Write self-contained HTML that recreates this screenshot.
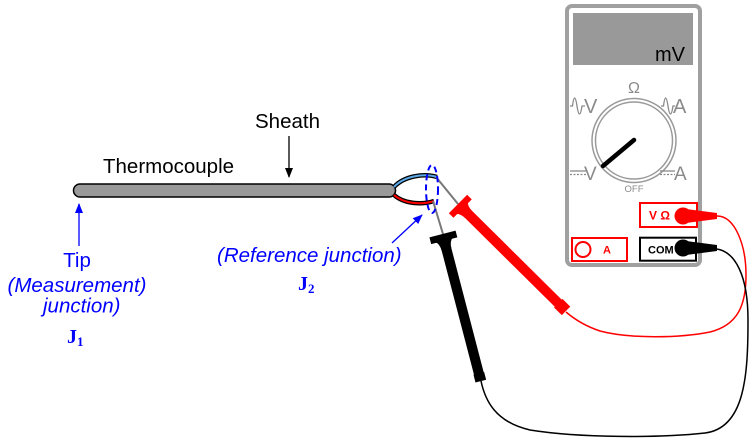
<!DOCTYPE html>
<html><head><meta charset="utf-8"><style>
html,body{margin:0;padding:0;background:#fff;}
svg{display:block;}
text{font-family:"Liberation Sans",Arial,sans-serif;}
.ser{font-family:"Liberation Serif","Times New Roman",serif;font-weight:bold;}
</style></head><body>
<svg width="756" height="444" viewBox="0 0 756 444" xmlns="http://www.w3.org/2000/svg">
<defs>
<marker id="ab" markerWidth="10" markerHeight="8" refX="9" refY="4" orient="auto" markerUnits="userSpaceOnUse"><path d="M0,0 L10,4 L0,8 Z" fill="#0000ff"/></marker>
<marker id="ak" markerWidth="10" markerHeight="8" refX="9" refY="4" orient="auto" markerUnits="userSpaceOnUse"><path d="M0,0 L10,4 L0,8 Z" fill="#000"/></marker>
</defs>

<!-- wires from meter -->
<path d="M717,216 C735,216 746,245 746,275 C746,305 738,325 710,332 C680,338 630,339 600,331 C585,326 573,318 566,312" fill="none" stroke="#ff0000" stroke-width="1.5"/>
<path d="M717,249 C735,252 748,275 748,320 C748,375 745,428 705,433 C660,438 580,438 530,430 C495,422 485,400 481,381" fill="none" stroke="#000" stroke-width="1.5"/>

<!-- sheath -->
<rect x="73.5" y="184" width="322" height="13" rx="6.5" ry="6.5" fill="#999" stroke="#000" stroke-width="1.5"/>

<!-- thermocouple wires -->
<path d="M394,187 C404,176 424,173 437,177" fill="none" stroke="#000" stroke-width="4.5"/>
<path d="M394,187 C404,176 424,173 437,177" fill="none" stroke="#5aa8e6" stroke-width="2"/>
<path d="M394,195 C404,204 422,205 434,201" fill="none" stroke="#000" stroke-width="4.5"/>
<path d="M394,195 C404,204 422,205 434,201" fill="none" stroke="#ff0000" stroke-width="2"/>

<!-- gray leads -->
<line x1="436" y1="177" x2="458" y2="204" stroke="#777" stroke-width="2"/>
<line x1="433" y1="201" x2="443" y2="234" stroke="#777" stroke-width="2"/>

<!-- dashed ellipse -->
<ellipse cx="432" cy="189" rx="6" ry="24" fill="none" stroke="#0000ff" stroke-width="2" stroke-dasharray="6,4"/>

<!-- red probe -->
<g transform="translate(458,204) rotate(44.7)" fill="#ff0000">
<rect x="0" y="-13" width="6.5" height="26"/>
<path d="M5,-9 Q8,-5 15,-5 L15,5 Q8,5 5,9 Z"/>
<rect x="6" y="-5" width="136" height="10"/>
<rect x="141" y="-6" width="11" height="12"/>
</g>
<!-- black probe -->
<g transform="translate(442.5,234) rotate(75.4)" fill="#000">
<rect x="0" y="-13.5" width="7" height="27"/>
<path d="M6,-9 Q9,-5 16,-5 L16,5 Q9,5 6,9 Z"/>
<rect x="6" y="-5" width="140" height="10"/>
<rect x="144" y="-5.5" width="8" height="11"/>
</g>

<!-- meter -->
<rect x="567" y="6" width="133" height="259" rx="5" ry="5" fill="#fff" stroke="#a0a0a0" stroke-width="4"/>
<rect x="573" y="13" width="120" height="52" fill="#999"/>
<text x="685" y="61" font-size="20" text-anchor="end" fill="#000">mV</text>

<circle cx="634" cy="140.5" r="42" fill="none" stroke="#999" stroke-width="1.5"/>
<circle cx="634" cy="140.5" r="38.5" fill="none" stroke="#999" stroke-width="1.5"/>
<line x1="634" y1="140" x2="603" y2="166" stroke="#000" stroke-width="4.5" stroke-linecap="round"/>

<g fill="#8a8a8a" stroke="none">
<text x="634" y="93" font-size="16" text-anchor="middle">Ω</text>
<text x="584" y="113" font-size="20">V</text>
<text x="673" y="113" font-size="20">A</text>
<text x="584" y="180" font-size="19">V</text>
<text x="674" y="180" font-size="19">A</text>
<text x="634" y="192" font-size="9.5" text-anchor="middle">OFF</text>
</g>
<g fill="none" stroke="#8a8a8a" stroke-width="1.3">
<path d="M570,106 L572.5,106 Q574.5,90 577,106 Q579.5,122 582,106 L585,106"/>
<path d="M661,106 L663.5,106 Q665.5,90 668,106 Q670.5,122 673,106 L675,106"/>
<line x1="570" y1="171" x2="586" y2="171"/>
<line x1="570" y1="174.5" x2="586" y2="174.5" stroke-dasharray="2,1.5"/>
<line x1="660" y1="171" x2="675" y2="171"/>
<line x1="660" y1="174.5" x2="675" y2="174.5" stroke-dasharray="2,1.5"/>
</g>

<!-- jacks -->
<rect x="640" y="203" width="57" height="24" fill="#fff" stroke="#ff0000" stroke-width="2"/>
<text x="649" y="219.5" font-size="12" font-weight="bold" fill="#ff0000">V Ω</text>
<rect x="640" y="237.7" width="56" height="23" fill="#fff" stroke="#000" stroke-width="2"/>
<text x="648" y="253.5" font-size="11" font-weight="bold" fill="#000">COM</text>
<rect x="572" y="238" width="55" height="23" fill="#fff" stroke="#ff0000" stroke-width="2"/>
<circle cx="583" cy="249.5" r="7.5" fill="none" stroke="#ff0000" stroke-width="2"/>
<text x="603" y="253.5" font-size="11" font-weight="bold" fill="#ff0000">A</text>

<!-- plugs -->
<circle cx="683" cy="216" r="8.5" fill="#ff0000"/>
<polygon points="686,209 717,213 717,219 686,223" fill="#ff0000"/>
<circle cx="683" cy="248" r="8.5" fill="#000"/>
<polygon points="686,241 717,245 717,251 686,255" fill="#000"/>

<!-- arrows -->
<line x1="289" y1="136" x2="289" y2="177" stroke="#000" stroke-width="1.3" marker-end="url(#ak)"/>
<line x1="79" y1="246" x2="79" y2="204" stroke="#0000ff" stroke-width="1.3" marker-end="url(#ab)"/>
<line x1="392" y1="243" x2="422" y2="215" stroke="#0000ff" stroke-width="1.3" marker-end="url(#ab)"/>

<!-- labels -->
<text x="255" y="128" font-size="20.5" fill="#000">Sheath</text>
<text x="103" y="173" font-size="20.5" fill="#000">Thermocouple</text>
<text x="77" y="267" font-size="20.5" fill="#0000ff" text-anchor="middle">Tip</text>
<text x="77" y="292" font-size="20.5" fill="#0000ff" text-anchor="middle" font-style="italic">(Measurement)</text>
<text x="43" y="312.5" font-size="20.5" fill="#0000ff" font-style="italic">junction)</text>
<text x="217" y="262" font-size="20.5" fill="#0000ff" font-style="italic">(Reference junction)</text>
<text x="67" y="343" class="ser" font-size="20" fill="#0000ff">J<tspan font-size="13" dy="3">1</tspan></text>
<text x="298" y="290" class="ser" font-size="20" fill="#0000ff">J<tspan font-size="13" dy="3">2</tspan></text>
</svg>
</body></html>
